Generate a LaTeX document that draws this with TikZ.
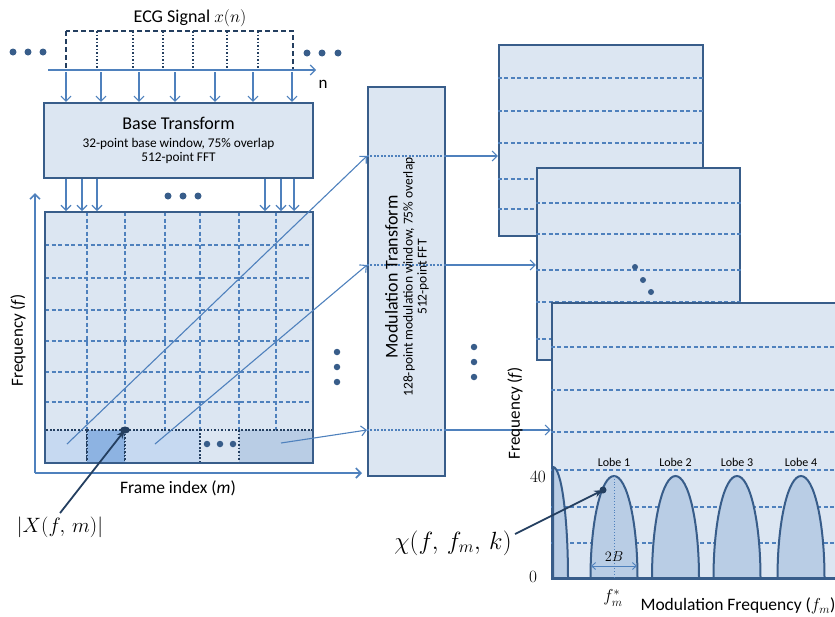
\documentclass[tikz,border=0pt]{standalone}
\usepackage{fontspec}
\setmainfont{Carlito}
\usetikzlibrary{arrows.meta}

\definecolor{boxfill}{HTML}{DCE6F2}
\definecolor{boxline}{HTML}{385D8A}
\definecolor{gridblue}{HTML}{4F81BD}
\definecolor{navy}{HTML}{243F60}
\definecolor{cellmid}{HTML}{C6D9F1}
\definecolor{celldark}{HTML}{8DB3E2}
\definecolor{cellgrey}{HTML}{B9CDE5}

\tikzset{
  panel/.style={draw=boxline,fill=boxfill,line width=2.2pt},
  gridln/.style={draw=gridblue,line width=1.1pt,dash pattern=on 4pt off 2.5pt},
  dotln/.style={line width=1.8pt,dash pattern=on 1.6pt off 1.9pt},
  arr/.style={draw=gridblue,line width=1.1pt,-{Straight Barb[length=5pt,width=10pt]}},
  pointer/.style={draw=navy,line width=1.8pt,-{Stealth[length=9pt,width=7pt]}},
  blob/.style={circle,fill=boxline,inner sep=0pt,minimum size=7pt},
  lobe/.style={draw=boxline,fill=cellgrey,line width=2pt},
  fs/.style={font=\fontsize{#1}{14}\selectfont},
}

\begin{document}
\begin{tikzpicture}[x=1pt,y=-1pt]
\clip (0,0) rectangle (835,616);

\node[fs=18] (ecgtitle) at (190,18) {ECG Signal $x(n)$};
\draw[navy,line width=1.8pt,dash pattern=on 5pt off 3pt] (66,31) rectangle (293,70);
\foreach \xx in {97,133,163,193,227,258}
  \draw[navy,dotln] (\xx,31) -- (\xx,70);
\coordinate (nstart) at (48,70);
\coordinate (nend) at (316,70);
\draw[arr] (nstart) -- (nend);
\node[fs=17] (nlab) at (323,84) {n};
\foreach \xx in {13,28,43}
  \node[blob] (sl\xx) at (\xx,52) {};
\foreach \xx in {307,322,338}
  \node[blob] (sr\xx) at (\xx,53) {};

\node[panel,fs=13.3,minimum width=269pt,minimum height=75pt,align=center,inner sep=0pt] (basebox) at (178.5,140.5)
  {{\fontsize{18}{14}\selectfont Base Transform}\\[4pt]
   32-point base window, 75\% overlap\\
   512-point FFT};
\foreach \xx in {66,101,139,175,215,253,292}
  \draw[arr] (\xx,72) -- (\xx,0 |- basebox.north);
\foreach \xx in {66,82,97,265,281,294}
  \draw[arr] (\xx,0 |- basebox.south) -- (\xx,211);
\foreach \xx in {168,183,198}
  \node[blob] (bd\xx) at (\xx,196) {};

\coordinate (origin) at (35,473);
\draw[arr,line width=1.6pt] (origin) -- (35,193);
\draw[arr,line width=1.6pt] (origin) -- (362,473);
\draw[panel] (45,212) rectangle (313,463);
\foreach \yy in {245,278,310,341,372,402}
  \draw[gridln] (45,\yy) -- (313,\yy);
\foreach \xx in {87,125,165,200,239,276}
  \draw[gridln] (\xx,212) -- (\xx,430);
\foreach \xa/\xb/\cc in {45/87/cellmid,87/125/celldark,125/200/cellmid,239/313/cellgrey}
  \draw[navy,dotln,fill=\cc] (\xa,430) rectangle (\xb,463);
\draw[navy,dotln] (200,430) -- (239,430);
\draw[boxline,line width=2.2pt] (45,212) rectangle (313,463);
\foreach \xx in {207,220,233}
  \node[blob,minimum size=6.5pt] (md\xx) at (\xx,444) {};
\coordinate (xfm) at (125,430);
\fill[navy] (xfm) ellipse (5 and 3.5);
\node[fs=17,rotate=90] (freqlab) at (18,340) {Frequency (\textit{f})};
\node[fs=17.5] (framelab) at (178,488) {Frame index (\textit{m})};
\node[fs=22] (xlab) at (60,527) {$|X(f,\,m)|$};
\draw[pointer] (xlab.north) -- (xfm);
\foreach \yy in {352,367,382}
  \node[blob,minimum size=6.5pt] (rd\yy) at (337,\yy) {};

\node[panel,minimum width=77pt,minimum height=389pt] (modbox) at (406.5,281.5) {};
\foreach \yy in {156,265,430}
  \draw[gridblue,dotln] (modbox.west |- 0,\yy) -- (modbox.east |- 0,\yy);
\node[fs=13.5,rotate=90,align=center,inner sep=0pt] (modtext) at (407,277)
  {{\fontsize{18}{14}\selectfont Modulation Transform}\\[1pt]
   128-point modulation window, 75\% overlap\\
   512-point FFT};
\coordinate (fa) at (67,444);
\coordinate (fb) at (155,444);
\coordinate (fc) at (281,443);
\draw[arr] (fa) -- (modbox.west |- 0,156);
\draw[arr] (fb) -- (modbox.west |- 0,265);
\draw[arr] (fc) -- (modbox.west |- 0,430);
\foreach \yy in {347,362,377}
  \node[blob,minimum size=6.5pt] (vd\yy) at (474,\yy) {};

\node[panel,minimum width=204pt,minimum height=191pt] (specA) at (601,140.5) {};
\foreach \yy in {78,111,143,179,209}
  \draw[gridln] (specA.west |- 0,\yy) -- (specA.east |- 0,\yy);
\node[panel,minimum width=203pt,minimum height=192pt] (specB) at (638.5,264) {};
\foreach \yy in {203,234,270,302,339}
  \draw[gridln] (specB.west |- 0,\yy) -- (specB.east |- 0,\yy);
\foreach \xx/\yy in {635/267,643/280,651/292}
  \node[blob,minimum size=6pt] (pd\xx) at (\xx,\yy) {};
\node[panel,minimum width=298pt,minimum height=275pt] (specC) at (701,440.5) {};
\foreach \yy in {347,390,432,470,507,543}
  \draw[gridln] (specC.west |- 0,\yy) -- (specC.east |- 0,\yy);
\draw[arr] (modbox.east |- 0,156) -- (specA.west |- 0,156);
\draw[arr] (modbox.east |- 0,265) -- (specB.west |- 0,265);
\draw[arr] (modbox.east |- 0,430) -- (specC.west |- 0,430);

\draw[lobe] (553,578) -- (553,467) arc[start angle=270,end angle=360,x radius=15,y radius=111] -- cycle;
\foreach \cx/\k in {614/1,675.5/2,737/3,801/4} {
  \draw[lobe] (\cx-23.5,578) arc[start angle=180,end angle=360,x radius=23.5,y radius=102] -- cycle;
  \node[fs=12] (lobe\k) at (\cx,462) {Lobe \k};
}
\draw[boxline,line width=2.2pt] (specC.south west) -- (specC.south east);
\coordinate (peak) at (614,476);
\draw[gridblue,line width=0.8pt,dotted] (peak) -- (614,578);
\coordinate (bwl) at (591,566);
\coordinate (bwr) at (637,566);
\draw[gridblue,line width=0.9pt,{Straight Barb[length=4pt,width=7pt]}-{Straight Barb[length=4pt,width=7pt]}] (bwl) -- (bwr);
\node[fs=15] (twob) at (614,557) {$2B$};
\node[fs=16] (ytop) at (538,477) {$40$};
\node[fs=16] (ybot) at (533,577) {$0$};
\node[fs=17,rotate=90] (freqC) at (515,413) {Frequency (\textit{f})};
\node[fs=18] (fstar) at (613,598) {$f_m^*$};
\node[fs=17.5,anchor=west] (modfreq) at (637,606) {Modulation Frequency ($f_m$)};
\coordinate (chipt) at (603,490);
\fill[navy] (chipt) circle (3.5);
\node[fs=24] (chilab) at (453,543) {$\chi(f,\,f_m,\,k)$};
\draw[pointer] ([yshift=9pt]chilab.east) -- (chipt);
\end{tikzpicture}
\end{document}
